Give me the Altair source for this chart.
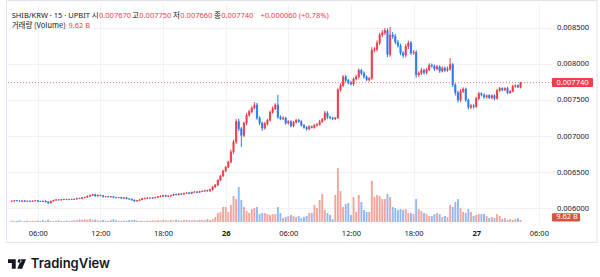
import altair as alt
import pandas as pd

# SHIB/KRW on UPBIT, 15-minute candles. Prices are in 1e-6 KRW.
close_u = [
    6100, 6108, 6102, 6098, 6104, 6096, 6100, 6094, 6102, 6106, 6098, 6094,
    6100, 6088, 6074, 6098, 6112, 6118, 6114, 6122, 6126, 6120, 6124, 6122,
    6128, 6138, 6134, 6148, 6152, 6166, 6178, 6190, 6170, 6182, 6176, 6160,
    6164, 6158, 6162, 6150, 6146, 6150, 6140, 6146, 6132, 6128, 6114, 6100,
    6106, 6118, 6134, 6138, 6144, 6140, 6146, 6152, 6160, 6168, 6178, 6166,
    6172, 6180, 6194, 6186, 6200, 6196, 6208, 6214, 6206, 6222, 6228, 6220,
    6232, 6238, 6246, 6240, 6260, 6295, 6322, 6390, 6447, 6516, 6570, 6640,
    6780, 6920, 7200, 7100, 7010, 7180, 7290, 7340, 7390, 7430, 7250, 7180,
    7110, 7170, 7220, 7330, 7380, 7430, 7264, 7240, 7250, 7180, 7200, 7140,
    7190, 7220, 7200, 7150, 7120, 7100, 7130, 7120, 7150, 7160, 7200, 7230,
    7320, 7260, 7250, 7240, 7250, 7640, 7700, 7820, 7770, 7740, 7720, 7790,
    7820, 7910, 7870, 7820, 7780, 7800, 8190, 8200, 8290, 8400, 8430, 8460,
    8130, 8400, 8380, 8300, 8250, 8150, 8120, 8240, 8290, 8150, 8160, 7850,
    7870, 7910, 7880, 7920, 7980, 7970, 7930, 7960, 7900, 7940, 7910, 7930,
    7990, 7710, 7600, 7500, 7620, 7650, 7500, 7400, 7420, 7410, 7520, 7590,
    7570, 7540, 7560, 7530, 7560, 7520, 7630, 7660, 7640, 7660, 7600, 7620,
    7690, 7700, 7680, 7740,
]
upper_wick_u = [
    6, 4, 8, 5, 6, 8, 4, 7, 5, 6, 8, 5,
    6, 10, 8, 6, 5, 8, 6, 5, 7, 6, 5, 8,
    6, 5, 8, 6, 7, 10, 8, 9, 12, 6, 8, 6,
    5, 8, 6, 7, 5, 6, 8, 5, 7, 6, 5, 8,
    6, 8, 5, 7, 6, 5, 8, 6, 7, 9, 6, 8,
    7, 6, 9, 8, 6, 10, 7, 8, 9, 6, 8, 7,
    9, 8, 10, 12, 9, 14, 16, 12, 15, 18, 14, 20,
    30, 25, 35, 40, 25, 20, 30, 25, 20, 40, 30, 25,
    20, 25, 18, 22, 30, 25, 140, 20, 25, 18, 20, 22,
    20, 15, 18, 20, 15, 18, 20, 15, 18, 20, 25, 20,
    30, 25, 20, 18, 15, 20, 30, 25, 30, 20, 25, 20,
    30, 25, 20, 25, 20, 15, 40, 30, 35, 30, 40, 35,
    30, 110, 40, 35, 30, 30, 25, 35, 30, 25, 30, 30,
    25, 30, 20, 25, 30, 25, 20, 25, 20, 25, 20, 30,
    90, 25, 20, 30, 30, 25, 20, 20, 25, 20, 25, 20,
    15, 20, 15, 20, 15, 20, 25, 20, 15, 15, 20, 15,
    20, 15, 15, 10,
]
lower_wick_u = [
    5, 7, 4, 6, 8, 5, 6, 4, 7, 5, 6, 8,
    5, 8, 15, 5, 6, 4, 7, 6, 5, 8, 6, 5,
    7, 6, 5, 8, 6, 7, 5, 8, 10, 6, 7, 9,
    6, 5, 7, 6, 8, 5, 6, 7, 5, 8, 6, 10,
    7, 5, 6, 8, 5, 7, 6, 5, 8, 6, 9, 7,
    6, 8, 7, 9, 6, 8, 7, 6, 10, 8, 7, 9,
    8, 7, 9, 10, 8, 12, 10, 12, 14, 12, 15, 14,
    20, 25, 30, 30, 160, 25, 30, 20, 25, 20, 25, 30,
    40, 20, 25, 18, 20, 20, 25, 20, 18, 25, 20, 22,
    20, 18, 15, 20, 18, 25, 20, 15, 18, 20, 15, 18,
    20, 25, 20, 18, 20, 15, 25, 20, 30, 25, 20, 25,
    20, 25, 30, 25, 20, 25, 20, 30, 25, 30, 25, 30,
    40, 30, 35, 30, 25, 30, 40, 30, 35, 30, 25, 40,
    30, 25, 30, 25, 20, 25, 30, 20, 25, 20, 25, 20,
    25, 30, 40, 35, 30, 25, 30, 30, 25, 30, 20, 25,
    20, 25, 20, 15, 20, 25, 15, 20, 20, 15, 20, 15,
    15, 20, 15, 10,
]
# traded volume per candle, in billions of SHIB
volume_b = [
    6, 4, 5, 8, 3, 5, 7, 4, 6, 5, 7, 5,
    9, 6, 11, 5, 4, 6, 8, 5, 4, 7, 5, 6,
    9, 8, 12, 10, 13, 11, 14, 9, 12, 8, 6, 10,
    7, 5, 9, 13, 8, 6, 5, 7, 6, 9, 8, 11,
    7, 5, 6, 4, 7, 5, 8, 6, 9, 7, 10, 8,
    6, 9, 7, 11, 8, 6, 9, 10, 7, 8, 9, 7,
    10, 10, 9, 14, 10, 14, 24, 43, 48, 72, 72, 48,
    82, 125, 110, 168, 106, 72, 53, 43, 62, 67, 72, 38,
    43, 43, 38, 34, 38, 38, 72, 43, 19, 24, 29, 34,
    29, 24, 29, 19, 24, 29, 43, 43, 82, 67, 106, 134,
    58, 43, 34, 14, 130, 259, 149, 72, 86, 91, 34, 120,
    48, 130, 96, 58, 48, 48, 197, 120, 130, 125, 110, 110,
    134, 120, 72, 67, 58, 62, 58, 62, 43, 43, 38, 110,
    62, 53, 43, 38, 29, 29, 38, 43, 38, 24, 29, 24,
    82, 72, 96, 110, 67, 48, 43, 62, 48, 29, 34, 38,
    38, 38, 29, 19, 24, 19, 38, 29, 14, 19, 10, 14,
    10, 14, 19, 9.62,
]
first_open_u = 6098
last_open_u = 7670
change_text = "+0.000060 (+0.78%)"

# ---- table ----
n = len(close_u)
start = pd.Timestamp("2024-05-25 03:30:00")
times = [(start + pd.Timedelta(minutes=15 * i)).strftime("%Y-%m-%dT%H:%M:%SZ") for i in range(n)]
open_u = [first_open_u] + close_u[:-1]
open_u[-1] = last_open_u
high_u = [max(o, c) + w for o, c, w in zip(open_u, close_u, upper_wick_u)]
low_u = [min(o, c) - w for o, c, w in zip(open_u, close_u, lower_wick_u)]

df = pd.DataFrame({
    "t": times,
    "o": [v * 1e-6 for v in open_u],
    "c": [v * 1e-6 for v in close_u],
    "h": [v * 1e-6 for v in high_u],
    "l": [v * 1e-6 for v in low_u],
    "v": volume_b,
})
last = df.tail(1).reset_index(drop=True)

# ---- style ----
RED = "#EF3E4C"
BLUE = "#2B7BF3"
RED_V = "#F2A59D"
BLUE_V = "#92B8F6"
VOL_TAG = "#D2553F"
DARK = "#131722"
GRID = "#F0F2F5"
FONT = "Noto Sans"
KFONT = "Noto Sans CJK KR"
FS = 7.5

def dt(d, h, m=0):
    return alt.DateTime(year=2024, month=5, date=d, hours=h, minutes=m, utc=True)

x_scale = alt.Scale(type="utc", domain=[dt(25, 3, 26), dt(27, 6, 47)])
x_axis = alt.Axis(
    values=[dt(25, 6), dt(25, 12), dt(25, 18), dt(26, 0), dt(26, 6), dt(26, 12),
            dt(26, 18), dt(27, 0), dt(27, 6)],
    labelExpr="utchours(datum.value) == 0 ? '' + utcdate(datum.value) : utcFormat(datum.value, '%H:%M')",
    labelFontWeight=alt.condition("utchours(datum.value) == 0", alt.value(700), alt.value(400)),
    grid=True, gridColor=GRID, gridWidth=1,
    domain=False, ticks=False, labelPadding=7, labelFontSize=FS,
    labelColor=DARK, labelFont=FONT, labelFlush=False, labelOverlap=False, title=None,
)
x_enc = alt.X("t:T", scale=x_scale, axis=x_axis, title=None)

p_scale = alt.Scale(domain=[0.0058104, 0.0088420], nice=False, zero=False)
y_axis = alt.Axis(
    orient="right", values=[0.006, 0.0065, 0.007, 0.0075, 0.008, 0.0085],
    format=".6f", grid=True, gridColor=GRID, gridWidth=1, domain=False, ticks=False,
    labelPadding=4.5, labelFontSize=FS, labelColor=DARK, labelFont=FONT,
    labelOverlap=False, title=None,
)

def py(field):
    return alt.Y(f"{field}:Q", scale=p_scale, axis=y_axis, title=None)

v_scale = alt.Scale(domain=[0, 1051], nice=False)

def vy(field):
    return alt.Y(f"{field}:Q", scale=v_scale, axis=None, title=None)

is_up = "datum.c >= datum.o"

# ---- volume pane ----
vol_bars = alt.Chart(df).mark_bar(size=1.9).encode(
    x=x_enc, y=vy("v"),
    color=alt.condition(is_up, alt.value(RED_V), alt.value(BLUE_V)),
)
# last-volume tag, kept clear of the lowest price label
vol_tag = alt.Chart(last).mark_rect(color=VOL_TAG, yOffset=-6.8, y2Offset=1.6, cornerRadius=1).encode(
    x=alt.value(546), x2=alt.value(574), y=vy("v"), y2="v:Q",
)
vol_tag_text = alt.Chart(last).transform_calculate(
    lbl="format(datum.v, '.2f') + ' B'"
).mark_text(color="white", fontSize=FS, font=FONT, dy=-2.6, align="center", baseline="middle").encode(
    x=alt.value(561), y=vy("v"), text="lbl:N",
)
volume_group = alt.layer(vol_bars, vol_tag, vol_tag_text)

# ---- price pane ----
wicks = alt.Chart(df).mark_rule(strokeWidth=1).encode(
    x=x_enc, y=py("l"), y2="h:Q",
    color=alt.condition(is_up, alt.value(RED), alt.value(BLUE)),
)
bodies = alt.Chart(df).mark_bar(size=1.2, strokeWidth=0.8).encode(
    x=x_enc, y=py("o"), y2="c:Q",
    color=alt.condition(is_up, alt.value(RED), alt.value(BLUE)),
    stroke=alt.condition(is_up, alt.value(RED), alt.value(BLUE)),
)
price_line = alt.Chart(last).mark_rule(color=RED, strokeDash=[1, 2], strokeWidth=1, opacity=0.7).encode(
    y=py("c"),
)
price_tag = alt.Chart(last).mark_rect(color=RED, yOffset=-4.5, y2Offset=4.5, cornerRadius=1).encode(
    x=alt.value(546), x2=alt.value(587), y=py("c"), y2="c:Q",
)
price_tag_text = alt.Chart(last).mark_text(
    color="white", fontSize=FS, font=FONT, align="center", baseline="middle"
).encode(
    x=alt.value(566.5), y=py("c"), text=alt.Text("c:Q", format=".6f"),
)

# ---- header legend ----
one = pd.DataFrame({"k": [0]})
o_l, h_l, l_l, c_l = (last.loc[0, f] for f in ["o", "h", "l", "c"])
# (x, y, text, colour, font, alignment)
header_parts = [
    (5.7, 12.7, "SHIB/KRW · 15 · UPBIT", DARK, FONT, "left"),
    (92.6, 12.7, "시", DARK, KFONT, "right"),
    (93.0, 12.7, f"{o_l:.6f}", RED, FONT, "left"),
    (132.9, 12.7, "고", DARK, KFONT, "right"),
    (133.3, 12.7, f"{h_l:.6f}", RED, FONT, "left"),
    (173.9, 12.7, "저", DARK, KFONT, "right"),
    (174.3, 12.7, f"{l_l:.6f}", RED, FONT, "left"),
    (214.9, 12.7, "종", DARK, KFONT, "right"),
    (215.3, 12.7, f"{c_l:.6f}", RED, FONT, "left"),
    (254.5, 12.7, change_text, RED, FONT, "left"),
    (5.7, 23.0, "거래량 (Volume)", DARK, KFONT, "left"),
    (62.5, 23.0, f"{volume_b[-1]:.2f} B", RED, FONT, "left"),
]
header = [
    alt.Chart(one).mark_text(align=a, baseline="middle", fontSize=FS, font=f, color=col).encode(
        x=alt.value(hx), y=alt.value(hy), text=alt.value(txt)
    )
    for hx, hy, txt, col, f, a in header_parts
]

# ---- frame and branding ----
frame = alt.Chart(one).mark_rect(fillOpacity=0, stroke="#E0E3EB", strokeWidth=1).encode(
    x=alt.value(0.5), x2=alt.value(591), y=alt.value(-2.5), y2=alt.value(239.5),
)
logo_path = (
    "M -1 -0.536 L -0.143 -0.536 L -0.143 0.536 L -0.571 0.536 L -0.571 -0.107 L -1 -0.107 Z "
    "M 0.072 -0.321 A 0.214 0.214 0 1 0 0.5 -0.321 A 0.214 0.214 0 1 0 0.072 -0.321 Z "
    "M 0.036 0.536 L 0.464 -0.536 L 1 -0.536 L 0.571 0.536 Z"
)
logo = alt.Chart(one).mark_point(shape=logo_path, filled=True, size=324, color=DARK, opacity=1).encode(
    x=alt.value(11), y=alt.value(261),
)
brand = alt.Chart(one).mark_text(
    align="left", baseline="alphabetic", fontSize=13, fontWeight=600, font="Inter", color=DARK
).encode(x=alt.value(24.8), y=alt.value(265), text=alt.value("TradingView"))

price_group = alt.layer(wicks, bodies, price_line, price_tag, price_tag_text,
                        *header, frame, logo, brand)

chart = alt.layer(volume_group, price_group).resolve_scale(y="independent").properties(
    width=546, height=219,
    autosize=alt.AutoSizeParams(type="none"),
    padding={"left": 6, "top": 3, "right": 48, "bottom": 55},
    background="white",
).configure_view(stroke=None)

chart.save("out.html", embed_options={"renderer": "svg", "actions": False})
